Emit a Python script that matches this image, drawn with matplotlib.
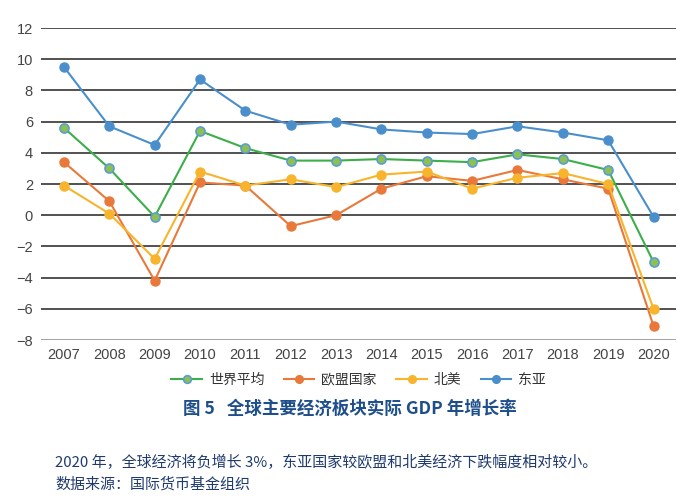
import matplotlib
matplotlib.use("Agg")
from matplotlib import pyplot as plt
import numpy as np

plt.rcParams['font.family'] = ['Noto Sans CJK SC', 'DejaVu Sans']

years = ['2007', '2008', '2009', '2010', '2011', '2012', '2013',
         '2014', '2015', '2016', '2017', '2018', '2019', '2020']

world = [5.6, 3.0, -0.1, 5.4, 4.3, 3.5, 3.5, 3.6, 3.5, 3.4, 3.9, 3.6, 2.9, -3.0]
eu = [3.4, 0.9, -4.2, 2.1, 1.9, -0.7, 0.0, 1.7, 2.5, 2.2, 2.9, 2.3, 1.7, -7.1]
north_america = [1.9, 0.1, -2.8, 2.8, 1.9, 2.3, 1.8, 2.6, 2.8, 1.7, 2.4, 2.7, 2.0, -6.0]
east_asia = [9.5, 5.7, 4.5, 8.7, 6.7, 5.8, 6.0, 5.5, 5.3, 5.2, 5.7, 5.3, 4.8, -0.1]

labels = ['世界平均', '欧盟国家', '北美', '东亚']

fig = plt.figure(figsize=(7, 5), dpi=100)
ax = fig.add_axes([0.059, 0.32, 0.907, 0.624])

x = np.arange(len(years))

# Grid lines drawn first so the series sit on top
for v in range(-6, 13, 2):
    ax.axhline(v, color='#333333', lw=1.2, zorder=1)
ax.axhline(-8, color='#999999', lw=2.0, zorder=1)

ax.plot(x, world, color='#3cae4a', lw=1.5, marker='o', ms=6.5,
        mfc='#8cc152', mec='#5b9bd5', mew=1.2, label=labels[0], zorder=3)
ax.plot(x, eu, color='#e8793a', lw=1.5, marker='o', ms=6.5,
        mfc='#e8793a', mec='#e8793a', label=labels[1], zorder=3)
ax.plot(x, north_america, color='#f8b42c', lw=1.5, marker='o', ms=6.5,
        mfc='#f8b42c', mec='#f8b42c', label=labels[2], zorder=3)
ax.plot(x, east_asia, color='#4a8fcb', lw=1.5, marker='o', ms=6.5,
        mfc='#4a8fcb', mec='#4a8fcb', label=labels[3], zorder=3)

ax.set_xlim(-0.5, len(years) - 0.5)
ax.set_ylim(-8, 12)
ax.set_yticks(np.arange(-8, 13, 2))
ax.set_yticklabels([str(v).replace('-', '−') for v in range(-8, 13, 2)])
ax.set_xticks(x)
ax.set_xticklabels(years)
ax.tick_params(length=0, labelsize=10.5, labelcolor='#444444', pad=6)
for lab in ax.get_xticklabels() + ax.get_yticklabels():
    lab.set_family(['Liberation Sans', 'DejaVu Sans'])
for s in ax.spines.values():
    s.set_visible(False)

ax.legend(loc='upper center', bbox_to_anchor=(0.5, -0.065), ncol=4,
          frameon=False, fontsize=10, handlelength=2.2, handletextpad=0.5,
          columnspacing=1.4, labelcolor='#333333', markerscale=0.85)

fig.text(0.5, 0.183, '图 5   全球主要经济板块实际 GDP 年增长率', ha='center',
         va='center', fontsize=12.6, fontweight='bold', color='#1e4f8a')
fig.text(0.079, 0.076, '2020 年，全球经济将负增长 3%，东亚国家较欧盟和北美经济下跌幅度相对较小。',
         ha='left', va='center', fontsize=10.8, color='#1e3a6e')
fig.text(0.079, 0.032, '数据来源：国际货币基金组织', ha='left', va='center',
         fontsize=10.8, color='#1e3a6e')

fig.savefig('out.png', dpi=100)
